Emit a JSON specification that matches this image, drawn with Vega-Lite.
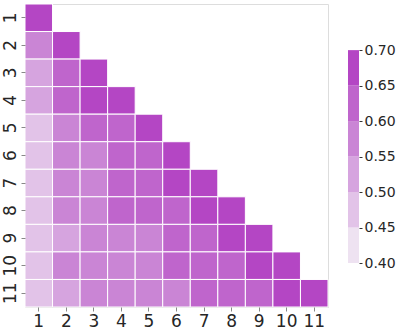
{
  "$schema": "https://vega.github.io/schema/vega-lite/v6.json",
  "padding": {"top": 3, "left": 0, "right": 0, "bottom": 0},
  "background": "white",
  "config": {
    "view": {"stroke": null},
    "font": "DejaVu Sans",
    "axis": {"labelFont": "DejaVu Sans", "labelColor": "#262626", "tickColor": "#888", "domain": false, "grid": false, "title": null}
  },
  "datasets": {
    "cells": [
      {"row": 1, "col": 1, "v": 0.68},
      {"row": 2, "col": 1, "v": 0.575}, {"row": 2, "col": 2, "v": 0.68},
      {"row": 3, "col": 1, "v": 0.525}, {"row": 3, "col": 2, "v": 0.625}, {"row": 3, "col": 3, "v": 0.68},
      {"row": 4, "col": 1, "v": 0.525}, {"row": 4, "col": 2, "v": 0.625}, {"row": 4, "col": 3, "v": 0.68}, {"row": 4, "col": 4, "v": 0.68},
      {"row": 5, "col": 1, "v": 0.475}, {"row": 5, "col": 2, "v": 0.575}, {"row": 5, "col": 3, "v": 0.625}, {"row": 5, "col": 4, "v": 0.625}, {"row": 5, "col": 5, "v": 0.68},
      {"row": 6, "col": 1, "v": 0.475}, {"row": 6, "col": 2, "v": 0.575}, {"row": 6, "col": 3, "v": 0.575}, {"row": 6, "col": 4, "v": 0.625}, {"row": 6, "col": 5, "v": 0.625}, {"row": 6, "col": 6, "v": 0.68},
      {"row": 7, "col": 1, "v": 0.475}, {"row": 7, "col": 2, "v": 0.575}, {"row": 7, "col": 3, "v": 0.575}, {"row": 7, "col": 4, "v": 0.625}, {"row": 7, "col": 5, "v": 0.625}, {"row": 7, "col": 6, "v": 0.68}, {"row": 7, "col": 7, "v": 0.68},
      {"row": 8, "col": 1, "v": 0.475}, {"row": 8, "col": 2, "v": 0.575}, {"row": 8, "col": 3, "v": 0.575}, {"row": 8, "col": 4, "v": 0.625}, {"row": 8, "col": 5, "v": 0.625}, {"row": 8, "col": 6, "v": 0.625}, {"row": 8, "col": 7, "v": 0.68}, {"row": 8, "col": 8, "v": 0.68},
      {"row": 9, "col": 1, "v": 0.475}, {"row": 9, "col": 2, "v": 0.525}, {"row": 9, "col": 3, "v": 0.575}, {"row": 9, "col": 4, "v": 0.575}, {"row": 9, "col": 5, "v": 0.575}, {"row": 9, "col": 6, "v": 0.625}, {"row": 9, "col": 7, "v": 0.625}, {"row": 9, "col": 8, "v": 0.68}, {"row": 9, "col": 9, "v": 0.68},
      {"row": 10, "col": 1, "v": 0.475}, {"row": 10, "col": 2, "v": 0.575}, {"row": 10, "col": 3, "v": 0.575}, {"row": 10, "col": 4, "v": 0.575}, {"row": 10, "col": 5, "v": 0.575}, {"row": 10, "col": 6, "v": 0.625}, {"row": 10, "col": 7, "v": 0.625}, {"row": 10, "col": 8, "v": 0.625}, {"row": 10, "col": 9, "v": 0.68}, {"row": 10, "col": 10, "v": 0.68},
      {"row": 11, "col": 1, "v": 0.475}, {"row": 11, "col": 2, "v": 0.525}, {"row": 11, "col": 3, "v": 0.575}, {"row": 11, "col": 4, "v": 0.575}, {"row": 11, "col": 5, "v": 0.575}, {"row": 11, "col": 6, "v": 0.575}, {"row": 11, "col": 7, "v": 0.625}, {"row": 11, "col": 8, "v": 0.625}, {"row": 11, "col": 9, "v": 0.625}, {"row": 11, "col": 10, "v": 0.68}, {"row": 11, "col": 11, "v": 0.68}
    ],
    "bins": [
      {"lo": 0.40, "hi": 0.45, "v": 0.425},
      {"lo": 0.45, "hi": 0.50, "v": 0.475},
      {"lo": 0.50, "hi": 0.55, "v": 0.525},
      {"lo": 0.55, "hi": 0.60, "v": 0.575},
      {"lo": 0.60, "hi": 0.65, "v": 0.625},
      {"lo": 0.65, "hi": 0.70, "v": 0.675}
    ]
  },
  "spacing": 18,
  "resolve": {"scale": {"color": "shared"}},
  "hconcat": [
    {
      "width": 303,
      "height": 303,
      "view": {"stroke": "#dddddd", "strokeWidth": 1},
      "data": {"name": "cells"},
      "mark": {"type": "rect", "stroke": "white", "strokeWidth": 1},
      "encoding": {
        "x": {"field": "col", "type": "ordinal", "scale": {"domain": [1,2,3,4,5,6,7,8,9,10,11], "paddingInner": 0, "paddingOuter": 0},
              "axis": {"labelAngle": 0, "labelFontSize": 17, "tickSize": 4, "labelPadding": 2}},
        "y": {"field": "row", "type": "ordinal", "scale": {"domain": [1,2,3,4,5,6,7,8,9,10,11], "paddingInner": 0, "paddingOuter": 0},
              "axis": {"labelAngle": 270, "labelFontSize": 17, "tickSize": 4, "labelPadding": 2, "labelAlign": "center", "labelBaseline": "bottom"}},
        "color": {"field": "v", "type": "quantitative",
                  "scale": {"type": "threshold", "domain": [0.45, 0.5, 0.55, 0.6, 0.65],
                            "range": ["#eee2f1", "#e2c3e8", "#d6a4df", "#ca85d5", "#bf65cc", "#b446c4"]},
                  "legend": null}
      }
    },
    {
      "width": 11,
      "height": 303,
      "data": {"name": "bins"},
      "mark": {"type": "rect"},
      "encoding": {
        "y": {"field": "lo", "type": "quantitative", "scale": {"domain": [0.338, 0.765], "nice": false, "zero": false},
              "axis": {"orient": "right", "values": [0.4, 0.45, 0.5, 0.55, 0.6, 0.65, 0.7], "format": ".2f", "labelFontSize": 14, "tickSize": 3, "tickColor": "#333", "labelPadding": 2}},
        "y2": {"field": "hi"},
        "color": {"field": "v", "type": "quantitative",
                  "scale": {"type": "threshold", "domain": [0.45, 0.5, 0.55, 0.6, 0.65],
                            "range": ["#eee2f1", "#e2c3e8", "#d6a4df", "#ca85d5", "#bf65cc", "#b446c4"]},
                  "legend": null}
      }
    }
  ]
}
